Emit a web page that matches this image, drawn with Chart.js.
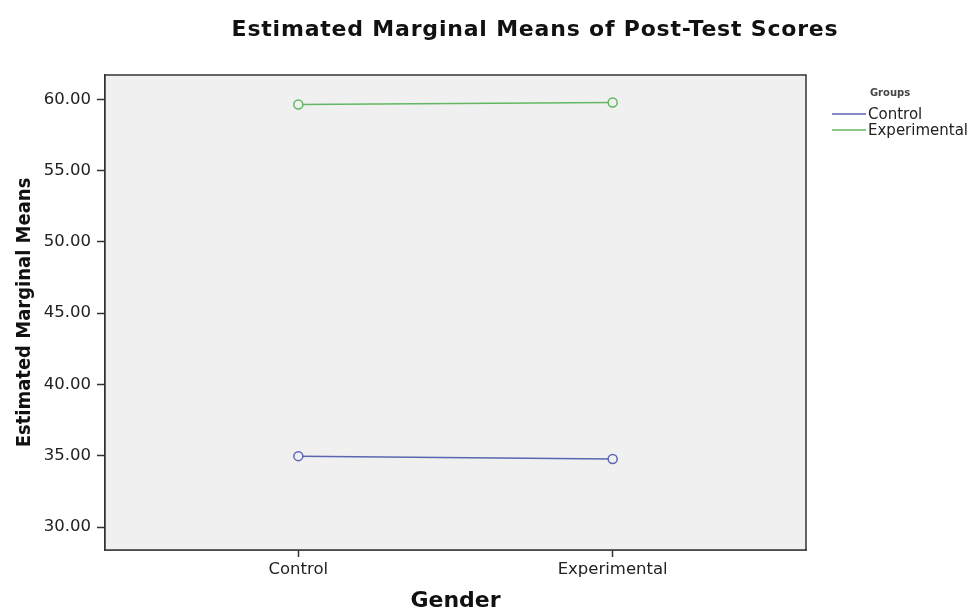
<!DOCTYPE html>
<html lang="en">
<head>
    <meta charset="UTF-8">
    <title>Estimated Marginal Means of Post-Test Scores</title>
    <script src="https://cdn.jsdelivr.net/npm/chart.js"></script>
    <style>
        html, body { margin: 0; padding: 0; background: #ffffff; }
        #wrap { width: 979px; height: 611px; }
    </style>
</head>
<body>
<div id="wrap">
    <canvas id="emmChart"></canvas>
</div>

<script>
    // categories on the x axis (Gender) and the two groups
    const genders = ['Control', 'Experimental'];
    const groups = ['Control', 'Experimental'];

    // estimated marginal means, one value per gender
    const controlMeans = [34.98, 34.78];
    const experimentalMeans = [59.63, 59.77];

    const yTicks = [30, 35, 40, 45, 50, 55, 60];

    const chartTitle = 'Estimated Marginal Means of Post-Test Scores';
    const legendTitle = 'Groups';

    const groupColors = ['#5a66b2', '#62b862'];
    const plotBg = '#f0f0f0';
    const inkColor = '#333333';

    const toPoints = vals => vals.map((v, i) => ({ x: i, y: v }));

    // background, frame, title and legend (SPSS style)
    const spssDecor = {
        id: 'spssDecor',
        beforeDatasetsDraw(chart) {
            const a = chart.chartArea;
            const ctx = chart.ctx;
            ctx.save();
            ctx.fillStyle = plotBg;
            ctx.fillRect(a.left, a.top, a.right - a.left, a.bottom - a.top);
            ctx.restore();
        },
        afterDraw(chart) {
            const a = chart.chartArea;
            const ctx = chart.ctx;
            ctx.save();
            ctx.strokeStyle = inkColor;
            ctx.lineWidth = 1.5;
            ctx.strokeRect(a.left, a.top, a.right - a.left, a.bottom - a.top);

            // title
            ctx.fillStyle = '#111111';
            ctx.font = 'bold 22px "DejaVu Sans", sans-serif';
            ctx.letterSpacing = '0.8px';
            ctx.textAlign = 'center';
            ctx.textBaseline = 'middle';
            ctx.fillText(chartTitle, 535, 30);
            ctx.letterSpacing = '0px';

            // legend
            ctx.font = 'bold 10px "DejaVu Sans", sans-serif';
            ctx.fillStyle = '#444444';
            ctx.fillText(legendTitle, 890, 93);
            ctx.font = '15px "DejaVu Sans", sans-serif';
            ctx.textAlign = 'left';
            groups.forEach((g, i) => {
                const y = 114 + i * 16;
                ctx.strokeStyle = groupColors[i];
                ctx.lineWidth = 1.5;
                ctx.beginPath();
                ctx.moveTo(832, y);
                ctx.lineTo(866, y);
                ctx.stroke();
                ctx.fillStyle = '#222222';
                ctx.fillText(g, 868, y + 1);
            });
            ctx.restore();
        }
    };

    const ctx = document.getElementById('emmChart').getContext('2d');
    new Chart(ctx, {
        type: 'line',
        data: {
            datasets: [
                {
                    label: groups[0],
                    data: toPoints(controlMeans),
                    borderColor: groupColors[0],
                    backgroundColor: plotBg,
                    borderWidth: 1.5,
                    pointRadius: 4.5,
                    pointBorderWidth: 1.5,
                    tension: 0
                },
                {
                    label: groups[1],
                    data: toPoints(experimentalMeans),
                    borderColor: groupColors[1],
                    backgroundColor: plotBg,
                    borderWidth: 1.5,
                    pointRadius: 4.5,
                    pointBorderWidth: 1.5,
                    tension: 0
                }
            ]
        },
        options: {
            responsive: true,
            maintainAspectRatio: false,
            animation: false,
            layout: {
                padding: { top: 75, right: 173, left: 0, bottom: 0 }
            },
            plugins: {
                legend: { display: false },
                title: { display: false },
                tooltip: { enabled: false }
            },
            scales: {
                x: {
                    type: 'linear',
                    min: -0.615,
                    max: 1.615,
                    afterBuildTicks: scale => {
                        scale.ticks = genders.map((g, i) => ({ value: i }));
                    },
                    afterFit: scale => { scale.height = 61; },
                    ticks: {
                        callback: v => genders[v],
                        color: '#222222',
                        padding: 3,
                        maxRotation: 0,
                        font: { family: '"DejaVu Sans", sans-serif', size: 16.5 }
                    },
                    grid: {
                        drawOnChartArea: false,
                        drawTicks: true,
                        tickLength: 7,
                        tickWidth: 1.5,
                        tickColor: inkColor
                    },
                    border: { display: true, color: inkColor, width: 1.5 },
                    title: {
                        display: true,
                        text: 'Gender',
                        color: '#111111',
                        padding: { top: 4, bottom: 0 },
                        font: { family: '"DejaVu Sans", sans-serif', size: 22, weight: 'bold', lineHeight: 0.85 }
                    }
                },
                y: {
                    min: 28.4,
                    max: 61.7,
                    afterBuildTicks: scale => {
                        scale.ticks = yTicks.map(v => ({ value: v }));
                    },
                    afterFit: scale => { scale.width = 105; },
                    ticks: {
                        callback: v => v.toFixed(2),
                        color: '#222222',
                        padding: 6,
                        font: { family: '"DejaVu Sans", sans-serif', size: 16.5 }
                    },
                    grid: {
                        drawOnChartArea: false,
                        drawTicks: true,
                        tickLength: 8,
                        tickWidth: 1.5,
                        tickColor: inkColor
                    },
                    border: { display: true, color: inkColor, width: 1.5 },
                    title: {
                        display: true,
                        text: 'Estimated Marginal Means',
                        color: '#111111',
                        padding: { top: 13, bottom: 0 },
                        font: { family: '"DejaVu Sans Condensed", "Liberation Sans Narrow", sans-serif', size: 20, weight: 'bold' }
                    }
                }
            }
        },
        plugins: [spssDecor]
    });
</script>
</body>
</html>
